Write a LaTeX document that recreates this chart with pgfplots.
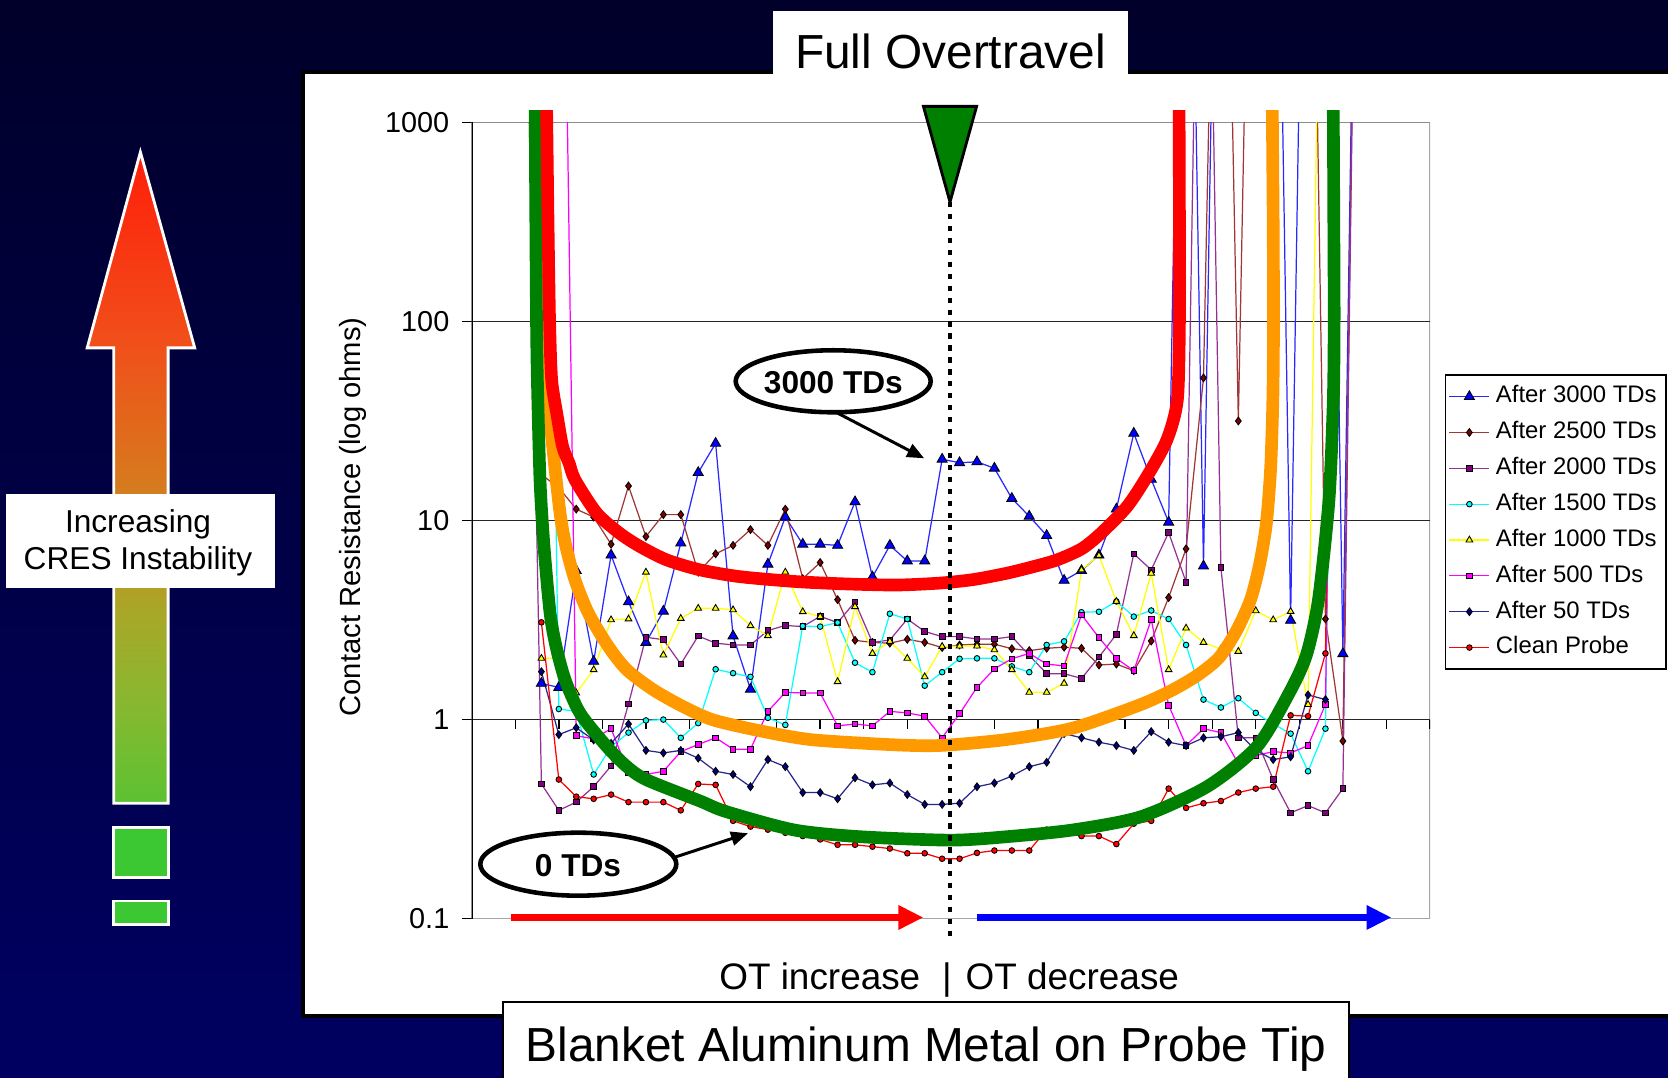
\documentclass[border=0pt]{standalone}
\usepackage{fontspec}
\setmainfont{Liberation Sans}
\usepackage{pgfplots}
\pgfplotsset{compat=1.18}
\usetikzlibrary{arrows.meta}

\definecolor{bgtop}{RGB}{0,0,42}
\definecolor{bgbot}{RGB}{0,0,98}
\definecolor{sBlueL}{RGB}{40,40,255}
\definecolor{sBlue}{RGB}{0,0,255}
\definecolor{sBrownL}{RGB}{160,55,55}
\definecolor{sBrown}{RGB}{128,0,0}
\definecolor{sPurpleL}{RGB}{150,50,150}
\definecolor{sPurple}{RGB}{128,0,128}
\definecolor{sCyan}{RGB}{0,255,255}
\definecolor{sYellow}{RGB}{255,255,0}
\definecolor{sMagenta}{RGB}{255,0,255}
\definecolor{sNavyL}{RGB}{40,40,140}
\definecolor{sNavy}{RGB}{0,0,128}
\definecolor{sRed}{RGB}{255,0,0}
\definecolor{cRed}{RGB}{255,0,0}
\definecolor{cOrange}{RGB}{255,153,0}
\definecolor{cGreen}{RGB}{0,128,0}
\definecolor{sqGreen}{RGB}{60,200,50}
\definecolor{ga}{RGB}{92,194,50}
\definecolor{gb}{RGB}{135,184,48}
\definecolor{gc}{RGB}{168,168,40}
\definecolor{gd}{RGB}{216,120,30}
\definecolor{ge}{RGB}{240,80,26}
\definecolor{gf}{RGB}{255,30,10}
\pgfdeclareverticalshading{cresarrow}{100bp}{color(0bp)=(ga); color(25bp)=(ga); color(32.5bp)=(gb); color(39.5bp)=(gc); color(50bp)=(gd); color(60bp)=(ge); color(75bp)=(gf); color(100bp)=(gf)}

\begin{document}
\begin{tikzpicture}
\path[use as bounding box] (0,0) rectangle (16.68,10.78);
\shade[top color=bgtop, bottom color=bgbot] (0,0) rectangle (16.68,10.78);

% white panel
\filldraw[fill=white, draw=black, line width=1.1pt] (3.03,0.62) rectangle (16.95,10.057);

% title boxes
\fill[white] (7.734,10.014) rectangle (11.276,10.674);
\node at (9.505,10.27) {\fontsize{13.6}{16}\selectfont Full Overtravel};
\filldraw[fill=white, draw=black, line width=0.6pt] (5.03,-0.2) rectangle (13.49,0.76);
\node at (9.26,0.29) {\fontsize{13.6}{16}\selectfont Blanket Aluminum Metal on Probe Tip};

% left gradient arrow
\shade[shading=cresarrow] (1.404,9.259) -- (1.947,7.301) -- (1.681,7.301) -- (1.681,2.748) -- (1.138,2.748) -- (1.138,7.301) -- (0.872,7.301) -- cycle;
\draw[white, line width=0.8pt, line join=miter] (1.404,9.259) -- (1.947,7.301) -- (1.681,7.301) -- (1.681,2.748) -- (1.138,2.748) -- (1.138,7.301) -- (0.872,7.301) -- cycle;
\filldraw[fill=sqGreen, draw=white, line width=0.8pt] (1.138,2.004) rectangle (1.681,2.504);
\filldraw[fill=sqGreen, draw=white, line width=0.8pt] (1.138,1.536) rectangle (1.681,1.77);
\fill[white] (0.064,4.897) rectangle (2.745,5.844);
\node[align=center, font=\fontsize{9}{10.6}\selectfont] at (1.38,5.35) {Increasing\\CRES Instability};

% axis labels
\node[rotate=90] at (3.53,5.61) {\fontsize{8.3}{10}\selectfont Contact Resistance (log ohms)};
\node[anchor=base east, inner sep=0pt] at (9.21,0.884) {\fontsize{10.5}{12}\selectfont OT increase};
\node[anchor=base, inner sep=0pt] at (9.47,0.884) {\fontsize{10.5}{12}\selectfont |};
\node[anchor=base west, inner sep=0pt] at (9.65,0.884) {\fontsize{10.5}{12}\selectfont OT decrease};

\begin{axis}[
  at={(4.717cm,1.593cm)}, anchor=south west,
  scale only axis, width=9.583cm, height=7.964cm,
  xmin=0, xmax=55, ymin=0.1, ymax=1000, ymode=log,
  axis line style={draw=none},
  xtick=\empty,
  ytick={0.1,1,10,100,1000},
  yticklabels={0.1,1,10,100,1000},
  yminorticks=false,
  ytick pos=left, tick align=outside,
  major tick length=0.1cm,
  tick style={black, line width=0.4pt},
  yticklabel style={font=\fontsize{8.2}{10}\selectfont},
  legend style={at={(1.0152,0.6833)}, anchor=north west, draw=black, fill=white,
    font=\fontsize{6.8}{8}\selectfont, inner xsep=1pt, inner ysep=1pt,
    nodes={inner sep=1.7pt, text height=5.2pt, text depth=1.6pt}, cells={anchor=west}},
  legend image code/.code={\draw[mark repeat=2,mark phase=2] plot coordinates {(0cm,0cm) (0.2cm,0cm) (0.4cm,0cm)};},
]
\draw[black!35, line width=0.55pt] (rel axis cs:0,0) rectangle (rel axis cs:1,1);
\draw[black!85, line width=0.45pt] (axis cs:0,10) -- (axis cs:55,10);
\draw[black!85, line width=0.45pt] (axis cs:0,100) -- (axis cs:55,100);
\draw[black!45, line width=0.45pt] (axis cs:0,1000) -- (axis cs:55,1000);
\draw[black!85, line width=0.5pt] (axis cs:0,1) -- (axis cs:55,1);
\pgfplotsinvokeforeach{2.5,5,...,55}{\draw[black, line width=0.4pt] (axis cs:#1,1) -- ++(0pt,-2.6pt);}
\draw[black, line width=0.5pt] (axis cs:0,0.1) -- (axis cs:0,1000);

\addplot[color=sBlueL, line width=0.35pt, mark=triangle*, mark size=1.65pt, mark options={draw=black, fill=sBlue, line width=0.25pt}] coordinates {
(4,1.52)(5,1.45)(6,5.6)(7,1.96)(8,6.7)(9,3.9)(10,2.44)(11,3.5)(12,7.7)(13,17.4)(14,24.4)(15,2.63)(16,1.42)(17,6.03)(18,10.4)(19,7.6)(20,7.6)(21,7.5)(22,12.4)(23,5.2)(24,7.5)(25,6.26)(26,6.26)(27,20.3)(28,19.5)(29,19.7)(30,18.3)(31,12.9)(32,10.5)(33,8.4)(34,5.0)(35,5.6)(36,6.7)(37,11.4)(38,27.4)(39,16.1)(40,9.8)(41,1e6)(42,5.9)(43,1e6)(44,1e6)(45,1e6)(46,1e6)(47,3.15)(48,1e6)(49,1e6)(50,2.14)(51,1e6)};
\addlegendentry{After 3000 TDs}
\addplot[color=sBrownL, line width=0.35pt, mark=diamond*, mark size=1.1pt, mark options={draw=black, fill=sBrown, line width=0.25pt}] coordinates {
(4,17)(5,14.6)(6,11.4)(7,10.4)(8,7.6)(9,14.9)(10,8.3)(11,10.7)(12,10.7)(13,5.5)(14,6.8)(15,7.5)(16,9.0)(17,7.5)(18,11.4)(19,5.1)(20,6.15)(21,4.0)(22,2.5)(23,2.44)(24,2.42)(25,2.53)(26,2.44)(27,2.3)(28,2.37)(29,2.39)(30,2.39)(31,2.27)(32,2.22)(33,2.28)(34,2.31)(35,2.28)(36,1.88)(37,1.9)(38,1.76)(39,2.48)(40,4.1)(41,7.2)(42,52)(43,1e6)(44,31.6)(45,1e6)(46,1e6)(47,1e6)(48,1e6)(49,3.2)(50,0.78)(51,1e6)};
\addlegendentry{After 2500 TDs}
\addplot[color=sPurpleL, line width=0.35pt, mark=square*, mark size=0.8pt, mark options={draw=black, fill=sPurple, line width=0.25pt}] coordinates {
(3,3e4)(4,0.475)(5,0.35)(6,0.385)(7,0.46)(8,0.585)(9,1.2)(10,2.59)(11,2.52)(12,1.9)(13,2.63)(14,2.42)(15,2.37)(16,2.37)(17,2.8)(18,2.97)(19,2.93)(20,3.3)(21,3.07)(22,3.9)(23,2.44)(24,2.51)(25,3.2)(26,2.77)(27,2.61)(28,2.61)(29,2.54)(30,2.54)(31,2.61)(32,2.1)(33,1.7)(34,1.7)(35,1.61)(36,2.06)(37,2.68)(38,6.8)(39,5.65)(40,8.7)(41,4.9)(42,1e6)(43,5.8)(44,0.81)(45,0.81)(46,0.50)(47,0.34)(48,0.37)(49,0.34)(50,0.45)(51,1e6)};
\addlegendentry{After 2000 TDs}
\addplot[color=sCyan, line width=0.35pt, mark=*, mark size=0.8pt, mark options={draw=black, fill=sCyan, line width=0.25pt}] coordinates {
(4,1e6)(5,1.13)(6,1.1)(7,0.53)(8,0.73)(9,0.86)(10,0.99)(11,1.0)(12,0.81)(13,0.96)(14,1.79)(15,1.71)(16,1.64)(17,1.02)(18,0.94)(19,2.95)(20,2.93)(21,3.07)(22,1.93)(23,1.73)(24,3.4)(25,3.2)(26,1.48)(27,1.73)(28,2.02)(29,2.03)(30,2.03)(31,1.85)(32,1.73)(33,2.37)(34,2.47)(35,3.46)(36,3.48)(37,3.92)(38,3.29)(39,3.53)(40,3.2)(41,2.37)(42,1.26)(43,1.15)(44,1.28)(45,1.08)(46,0.95)(47,0.85)(48,0.55)(49,0.9)(50,1e6)};
\addlegendentry{After 1500 TDs}
\addplot[color=sYellow, line width=0.35pt, mark=triangle*, mark size=1.1pt, mark options={draw=black, fill=sYellow, line width=0.25pt}] coordinates {
(4,2.03)(5,2.03)(6,1.36)(7,1.78)(8,3.17)(9,3.2)(10,5.5)(11,2.11)(12,3.22)(13,3.62)(14,3.62)(15,3.56)(16,2.96)(17,2.64)(18,5.5)(19,3.48)(20,3.29)(21,1.55)(22,3.69)(23,2.15)(24,2.47)(25,2.03)(26,1.64)(27,2.33)(28,2.34)(29,2.34)(30,2.24)(31,1.78)(32,1.37)(33,1.37)(34,1.52)(35,5.65)(36,6.67)(37,3.92)(38,2.64)(39,5.43)(40,1.78)(41,2.88)(42,2.44)(43,2.26)(44,2.2)(45,3.52)(46,3.17)(47,3.49)(48,1.19)(49,1e6)(50,1e6)};
\addlegendentry{After 1000 TDs}
\addplot[color=sMagenta, line width=0.35pt, mark=square*, mark size=0.8pt, mark options={draw=black, fill=sMagenta, line width=0.25pt}] coordinates {
(4,1e6)(5,1e6)(6,0.83)(7,0.80)(8,0.90)(9,0.54)(10,0.53)(11,0.55)(12,0.69)(13,0.75)(14,0.81)(15,0.71)(16,0.71)(17,1.1)(18,1.37)(19,1.36)(20,1.36)(21,0.93)(22,0.95)(23,0.93)(24,1.1)(25,1.08)(26,1.04)(27,0.81)(28,1.07)(29,1.45)(30,1.8)(31,2.02)(32,2.15)(33,1.9)(34,1.86)(35,3.36)(36,2.58)(37,2.03)(38,1.76)(39,3.18)(40,1.18)(41,0.74)(42,0.9)(43,0.86)(44,0.6)(45,0.66)(46,0.69)(47,0.68)(48,0.74)(49,1.19)(50,1e6)};
\addlegendentry{After 500 TDs}
\addplot[color=sNavyL, line width=0.35pt, mark=diamond*, mark size=1.1pt, mark options={draw=black, fill=sNavy, line width=0.25pt}] coordinates {
(4,1.74)(5,0.84)(6,0.91)(7,0.79)(8,0.76)(9,0.95)(10,0.70)(11,0.68)(12,0.70)(13,0.64)(14,0.55)(15,0.53)(16,0.46)(17,0.63)(18,0.58)(19,0.43)(20,0.43)(21,0.40)(22,0.51)(23,0.47)(24,0.48)(25,0.42)(26,0.375)(27,0.375)(28,0.38)(29,0.46)(30,0.48)(31,0.52)(32,0.58)(33,0.61)(34,0.85)(35,0.81)(36,0.77)(37,0.74)(38,0.70)(39,0.87)(40,0.77)(41,0.74)(42,0.81)(43,0.82)(44,0.86)(45,0.70)(46,0.63)(47,0.65)(48,1.33)(49,1.26)};
\addlegendentry{After 50 TDs}
\addplot[color=sRed, line width=0.35pt, mark=*, mark size=0.8pt, mark options={draw=black, fill=sRed, line width=0.25pt}] coordinates {
(4,3.08)(5,0.50)(6,0.41)(7,0.40)(8,0.42)(9,0.385)(10,0.385)(11,0.385)(12,0.35)(13,0.475)(14,0.47)(15,0.31)(16,0.29)(17,0.28)(18,0.27)(19,0.26)(20,0.25)(21,0.235)(22,0.235)(23,0.23)(24,0.225)(25,0.213)(26,0.213)(27,0.20)(28,0.20)(29,0.214)(30,0.22)(31,0.22)(32,0.22)(33,0.28)(34,0.27)(35,0.26)(36,0.26)(37,0.237)(38,0.30)(39,0.31)(40,0.45)(41,0.36)(42,0.38)(43,0.39)(44,0.43)(45,0.45)(46,0.46)(47,1.05)(48,1.04)(49,2.15)(50,1e6)};
\addlegendentry{Clean Probe}
\end{axis}

% hand-drawn U curves
\begin{axis}[
  at={(4.717cm,1.593cm)}, anchor=south west,
  scale only axis, width=9.583cm, height=7.964cm,
  xmin=0, xmax=55, ymin=0.1, ymax=1000, ymode=log,
  hide axis, clip=false]
\addplot[cOrange, line width=3.6pt, smooth, tension=0.45] coordinates {
(4.0,1150)(4.08,316)(4.17,100)(4.30,50.8)(4.65,23.5)(5.07,10.9)(5.41,7.4)(5.93,5.02)(6.70,3.42)(7.84,2.33)(8.9,1.78)(10.43,1.41)(12.15,1.16)(13.87,0.995)(16.74,0.871)(19.6,0.791)(24.4,0.746)(27.0,0.742)(30.7,0.794)(34.5,0.906)(38.4,1.19)(40.3,1.42)(41.7,1.68)(42.9,2.05)(43.9,2.8)(44.7,4.0)(45.2,5.9)(45.6,9.5)(45.85,18)(45.98,40)(46.02,100)(46.0,316)(45.95,1150)};
\addplot[cGreen, line width=3.6pt, smooth, tension=0.45] coordinates {
(3.64,1150)(3.68,316)(3.72,100)(3.77,50.8)(3.92,16)(4.15,7.4)(4.5,3.42)(4.84,2.33)(5.36,1.585)(6.22,1.076)(7.75,0.733)(8.9,0.581)(10.04,0.498)(13.1,0.39)(14.6,0.345)(18.5,0.279)(22.3,0.258)(27.5,0.248)(30.7,0.258)(34.5,0.279)(38.4,0.325)(42.2,0.46)(45.06,0.73)(46.9,1.35)(47.9,2.1)(48.6,4.0)(49.2,12.6)(49.45,40)(49.5,100)(49.48,316)(49.45,1150)};
\addplot[cRed, line width=3.6pt, smooth, tension=0.45] coordinates {
(4.3,1150)(4.38,316)(4.47,100)(4.59,50.8)(4.88,34.6)(5.22,23.5)(5.59,19.4)(5.93,16.0)(7.17,10.9)(8.51,8.6)(9.66,7.4)(11.19,6.34)(13.1,5.65)(15.4,5.22)(18.65,4.93)(21.5,4.8)(24.4,4.74)(26.9,4.85)(28.8,5.05)(30.7,5.43)(32.2,5.85)(33.6,6.34)(35.0,7.2)(36.1,8.6)(37.6,11.7)(38.75,16.6)(39.9,25.4)(40.5,40.4)(40.62,100)(40.62,316)(40.6,1150)};
\end{axis}

% overlays
\draw[black, line width=1.3pt, dash pattern=on 1.5pt off 1.9pt] (9.50,8.76) -- (9.50,1.40);
\filldraw[fill=cGreen, draw=black, line width=0.8pt, line join=miter] (9.234,9.716) -- (9.766,9.716) -- (9.50,8.759) -- cycle;
\draw[red, line width=1.9pt, -{Triangle[length=0.25cm,width=0.23cm]}] (5.106,1.605) -- (9.234,1.605);
\draw[blue, line width=1.9pt, -{Triangle[length=0.25cm,width=0.23cm]}] (9.766,1.605) -- (13.915,1.605);

\filldraw[fill=white, draw=black, line width=1.3pt] (8.332,6.967) ellipse [x radius=0.975, y radius=0.31];
\node at (8.334,6.95) {\fontsize{9}{11}\selectfont\bfseries 3000 TDs};
\draw[black, line width=0.85pt, -{Triangle[length=0.17cm,width=0.14cm]}] (8.36,6.657) -- (9.241,6.197);

\filldraw[fill=white, draw=black, line width=1.3pt] (5.783,2.138) ellipse [x radius=0.98, y radius=0.315];
\node at (5.78,2.125) {\fontsize{9}{11}\selectfont\bfseries 0 TDs};
\draw[black, line width=0.85pt, -{Triangle[length=0.17cm,width=0.14cm]}] (6.74,2.205) -- (7.48,2.447);
\end{tikzpicture}
\end{document}
